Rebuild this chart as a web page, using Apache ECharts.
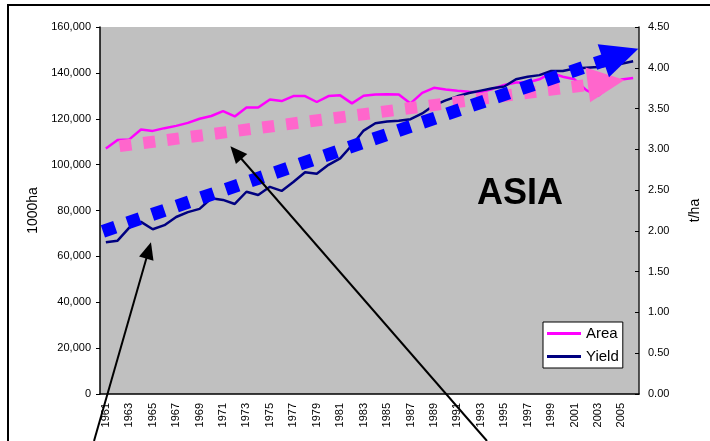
<!DOCTYPE html>
<html>
<head>
<meta charset="utf-8">
<script src="https://cdn.jsdelivr.net/npm/echarts@6/dist/echarts.min.js"></script>
<style>
  html, body { margin: 0; padding: 0; background: #ffffff; }
  #chart { width: 710px; height: 441px; }
</style>
</head>
<body>
<div id="chart"></div>
<script>
// Harvested area (1000 ha, left axis) and yield (t/ha, right axis), Asia 1961-2006
const years = [];
for (let y = 1961; y <= 2006; y++) years.push(String(y));

const areaValues = [
  107000, 110700, 111000, 115300, 114700, 115900, 116900, 118200, 120000, 121200,
  123300, 121000, 124900, 124900, 128400, 127700, 129900, 129900, 127300, 129900,
  130200, 126700, 130000, 130600, 130700, 130600, 126700, 131300, 133500, 132800,
  132200, 131800, 131600, 133000, 134700, 135800, 135800, 137200, 140000, 138300,
  137200, 132500, 130000, 134000, 137100, 137800
];

const yieldValues = [
  1.86, 1.88, 2.04, 2.11, 2.02, 2.07, 2.17, 2.23, 2.27, 2.40,
  2.38, 2.33, 2.48, 2.44, 2.54, 2.49, 2.60, 2.72, 2.70, 2.81,
  2.89, 3.05, 3.23, 3.32, 3.34, 3.35, 3.37, 3.44, 3.54, 3.60,
  3.65, 3.69, 3.72, 3.75, 3.77, 3.86, 3.89, 3.91, 3.96, 3.96,
  3.99, 4.00, 4.01, 4.03, 4.05, 4.08
];

// Trend arrows: [year, value] start and end points
const areaTrend = [[1962.17, 108050], [2003.7, 135800]];   // left axis
const yieldTrend = [[1960.75, 1.995], [2004.95, 4.16]];    // right axis

// Axis ranges
const areaAxis = { min: 0, max: 160000, interval: 20000 };
const yieldAxis = { min: 0, max: 4.5, interval: 0.5 };

// Callout arrows: tail in page pixels, tip as [year, area value]
const callouts = [
  { tail: [94, 441], tip: [1964.85, 66140] },
  { tail: [487, 441], tip: [1971.63, 108050] }
];

const FONT = '"Liberation Sans", Arial, sans-serif';

const chart = echarts.init(document.getElementById('chart'), null, { renderer: 'canvas' });

function trendSeries(name, yAxisIndex, pts, color, width) {
  return {
    name: name,
    type: 'line',
    xAxisIndex: 1,
    yAxisIndex: yAxisIndex,
    data: [],
    silent: true,
    z: 4,
    markLine: {
      silent: true,
      animation: false,
      symbol: ['none', 'triangle'],
      symbolSize: [35, 37],
      label: { show: false },
      emphasis: { disabled: true },
      lineStyle: { color: color, width: width, type: 'dotted', opacity: 1 },
      data: [[{ coord: pts[0] }, { coord: pts[1] }]]
    }
  };
}

chart.setOption({
  animation: false,
  textStyle: { fontFamily: FONT },
  grid: {
    left: 100, right: 60, top: 27, bottom: 47,
    show: true, backgroundColor: '#c0c0c0', borderWidth: 0
  },
  legend: {
    data: [{ name: 'Area', icon: 'rect' }, { name: 'Yield', icon: 'rect' }],
    orient: 'vertical',
    left: 543, top: 322,
    backgroundColor: '#ffffff',
    borderColor: '#000000', borderWidth: 1,
    padding: [3, 4, 3, 4],
    itemWidth: 34, itemHeight: 3, itemGap: 6,
    textStyle: { fontSize: 15, color: '#000', fontFamily: FONT, lineHeight: 17 },
    selectedMode: false
  },
  xAxis: [
    {
      type: 'category',
      data: years,
      boundaryGap: true,
      axisLine: { lineStyle: { color: '#000', width: 1.5 } },
      axisTick: { inside: true, length: 4, interval: 0, lineStyle: { color: '#000' } },
      axisLabel: { rotate: 90, interval: 1, fontSize: 11, color: '#000', margin: 9, fontFamily: FONT },
      splitLine: { show: false }
    },
    { type: 'value', min: 1960.5, max: 2006.5, show: false }
  ],
  yAxis: [
    {
      type: 'value', position: 'left',
      min: areaAxis.min, max: areaAxis.max, interval: areaAxis.interval,
      name: '1000ha', nameLocation: 'middle', nameGap: 51, nameRotate: 90,
      nameTextStyle: { fontSize: 14, color: '#000', fontFamily: FONT },
      axisLine: { show: true, lineStyle: { color: '#000', width: 1.5 } },
      axisTick: { show: true, length: 4, lineStyle: { color: '#000' } },
      axisLabel: {
        fontSize: 11, color: '#000', margin: 9, fontFamily: FONT,
        formatter: v => v.toLocaleString('en-US')
      },
      splitLine: { show: false }
    },
    {
      type: 'value', position: 'right',
      min: yieldAxis.min, max: yieldAxis.max, interval: yieldAxis.interval,
      name: 't/ha', nameLocation: 'middle', nameGap: 49, nameRotate: 90,
      nameTextStyle: { fontSize: 14, color: '#000', fontFamily: FONT },
      axisLine: { show: true, lineStyle: { color: '#222', width: 1.5 } },
      axisTick: { show: true, inside: true, length: 4, lineStyle: { color: '#000' } },
      axisLabel: {
        fontSize: 11, color: '#000', margin: 9, fontFamily: FONT,
        formatter: v => v.toFixed(2)
      },
      splitLine: { show: false }
    }
  ],
  series: [
    {
      name: 'Area', type: 'line', xAxisIndex: 0, yAxisIndex: 0,
      data: areaValues, symbol: 'none', z: 2,
      lineStyle: { color: '#ff00ff', width: 2.5 }, itemStyle: { color: '#ff00ff' }
    },
    {
      name: 'Yield', type: 'line', xAxisIndex: 0, yAxisIndex: 1,
      data: yieldValues, symbol: 'none', z: 3,
      lineStyle: { color: '#000080', width: 2.5 }, itemStyle: { color: '#000080' }
    },
    trendSeries('areaTrend', 0, areaTrend, '#ff66cc', 12),
    trendSeries('yieldTrend', 1, yieldTrend, '#0000ff', 13)
  ]
});

// Border, region label and callout arrows
function arrowElements(tail, tip, id) {
  const dx = tip[0] - tail[0], dy = tip[1] - tail[1];
  const len = Math.sqrt(dx * dx + dy * dy);
  const ux = dx / len, uy = dy / len;
  const headLen = 17, halfW = 7.5;
  const bx = tip[0] - ux * headLen, by = tip[1] - uy * headLen;
  return [
    {
      type: 'line', id: id + '-shaft', silent: true, z: 10,
      shape: { x1: tail[0], y1: tail[1], x2: bx + ux * 2, y2: by + uy * 2 },
      style: { stroke: '#000', lineWidth: 2 }
    },
    {
      type: 'polygon', id: id + '-head', silent: true, z: 10,
      shape: { points: [tip, [bx - uy * halfW, by + ux * halfW], [bx + uy * halfW, by - ux * halfW]] },
      style: { fill: '#000' }
    }
  ];
}

const graphics = [
  {
    type: 'rect', id: 'frame', silent: true, z: 0,
    shape: { x: 8, y: 5, width: 720, height: 460 },
    style: { fill: 'none', stroke: '#000', lineWidth: 2 }
  },
  {
    type: 'text', id: 'region', silent: true, z: 10,
    x: 520, y: 194,
    style: {
      text: 'ASIA', fill: '#000', align: 'center', verticalAlign: 'middle',
      font: 'bold 36px ' + FONT
    }
  }
];
callouts.forEach((c, i) => {
  const tipPx = chart.convertToPixel({ xAxisIndex: 1, yAxisIndex: 0 }, c.tip);
  arrowElements(c.tail, tipPx, 'callout' + i).forEach(g => graphics.push(g));
});
chart.setOption({ graphic: graphics });
</script>
</body>
</html>
